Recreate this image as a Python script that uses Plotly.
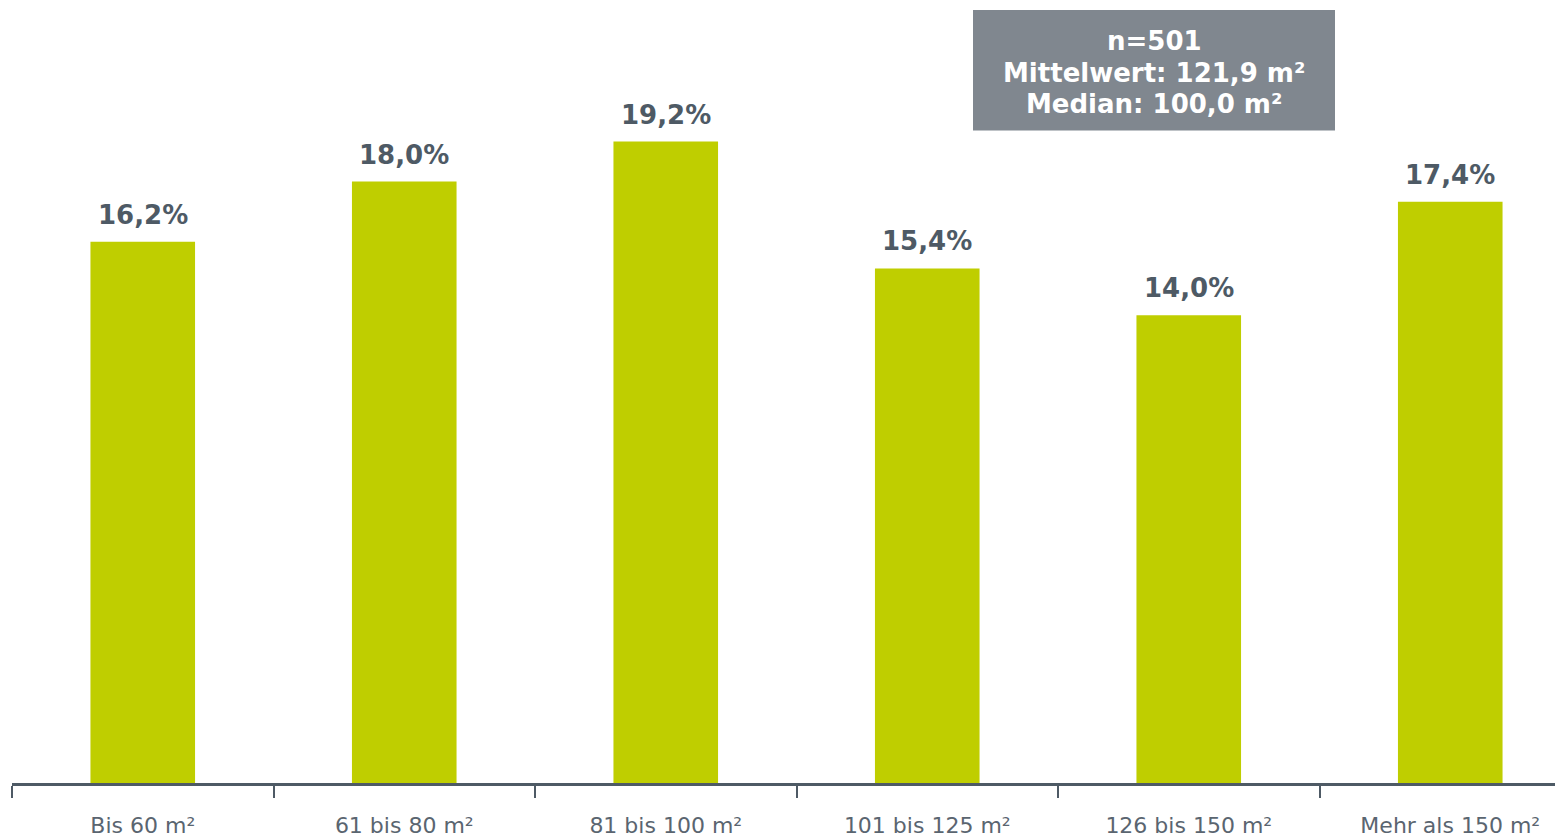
import plotly.graph_objects as go

categories = ["Bis 60 m²", "61 bis 80 m²", "81 bis 100 m²", "101 bis 125 m²", "126 bis 150 m²", "Mehr als 150 m²"]
values = [16.2, 18.0, 19.2, 15.4, 14.0, 17.4]
info_lines = ["n=501", "Mittelwert: 121,9 m²", "Median: 100,0 m²"]

labels = [f"{v:.1f}%".replace(".", ",") for v in values]

BAR = "#bfce00"
DARK = "#4e5a65"
TICK = "#5a6570"

# page offset of the figure (body margin) is 8 px
PLOT_H = 778.0
PLOT_W = 1551.0


def py(page_y):
    return 1 - (page_y - 8) / PLOT_H


def px(page_x):
    return (page_x - 12) / PLOT_W


fig = go.Figure()
fig.add_trace(go.Bar(
    x=categories, y=values, width=0.4,
    marker=dict(color=BAR, line=dict(width=0)),
    hoverinfo="skip",
))

for c, v, t in zip(categories, values, labels):
    fig.add_annotation(
        x=c, y=v, xref="x", yref="y", text=t, showarrow=False,
        yanchor="bottom", yshift=10,
        font=dict(family="DejaVu Sans", size=26, color=DARK, weight="bold"),
    )

fig.add_shape(type="rect", xref="paper", yref="paper",
              x0=px(973), x1=px(1335), y0=py(131), y1=py(10),
              fillcolor="#80878f", line=dict(width=0), layer="above")
for line, yy in zip(info_lines, [41, 73, 104]):
    fig.add_annotation(
        xref="paper", yref="paper", x=px(1154), y=py(yy),
        text=line, showarrow=False,
        xanchor="center", yanchor="middle", align="center",
        font=dict(family="DejaVu Sans", size=26, color="white", weight="bold"),
    )

fig.update_layout(
    width=1555, height=830,
    margin=dict(l=4, r=0, t=0, b=52, pad=0),
    paper_bgcolor="white", plot_bgcolor="white",
    showlegend=False,
    xaxis=dict(
        range=[-0.5, -0.5 + PLOT_W / 261.5], showline=True, linecolor=DARK, linewidth=3,
        ticks="outside", tickson="boundaries", ticklen=12, tickwidth=2, tickcolor=DARK,
        tickfont=dict(family="DejaVu Sans", size=22, color=TICK),
        ticklabelstandoff=21, showgrid=False, zeroline=False, fixedrange=True,
    ),
    yaxis=dict(
        range=[0, PLOT_H / 33.54], visible=False, showgrid=False, zeroline=False, fixedrange=True,
    ),
)

fig.write_html("out.html")
